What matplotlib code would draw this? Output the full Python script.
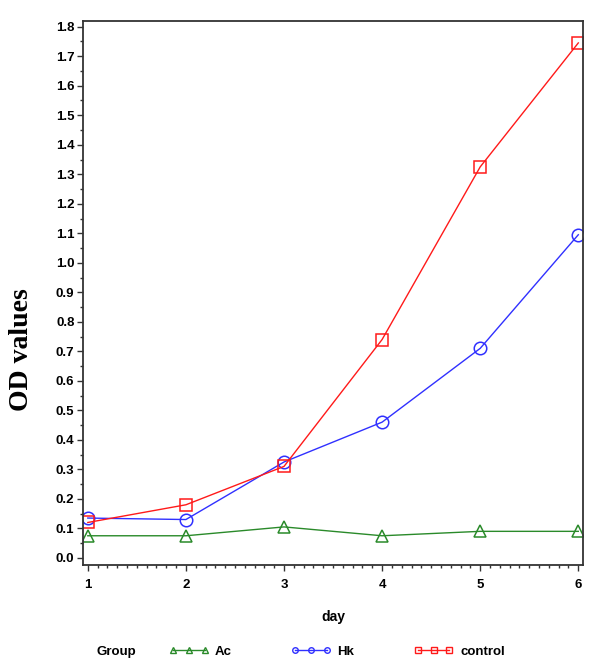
import matplotlib
matplotlib.use("Agg")
import matplotlib.pyplot as plt
from matplotlib.ticker import MultipleLocator

days = [1, 2, 3, 4, 5, 6]
day_labels = ["1", "2", "3", "4", "5", "6"]
ac = [0.075, 0.075, 0.105, 0.075, 0.09, 0.09]
hk = [0.135, 0.13, 0.325, 0.46, 0.71, 1.095]
control = [0.12, 0.18, 0.31, 0.74, 1.325, 1.745]
series_names = ["Ac", "Hk", "control"]

fig = plt.figure(figsize=(6, 6.71), dpi=100)
ax = fig.add_axes([0.138, 0.158, 0.834, 0.811])

styles = [("#2a8a2a", "^"), ("#3030ff", "o"), ("#ff1a1a", "s")]
handles = []
for vals, name, (c, m) in zip([ac, hk, control], series_names, styles):
    h, = ax.plot(days, vals, color=c, lw=1.0, marker=m, markersize=9,
                 markerfacecolor="none", markeredgecolor=c, markeredgewidth=1.1,
                 label=name)
    handles.append(h)

ax.set_xlim(0.949, 6.05)
ax.set_ylim(-0.024, 1.82)
ax.set_xticks(days)
ax.set_xticklabels(day_labels)
ax.xaxis.set_minor_locator(MultipleLocator(0.1))
ax.yaxis.set_minor_locator(MultipleLocator(0.05))
ax.set_yticks([i / 10 for i in range(19)])
ax.set_yticklabels([f"{i/10:.1f}" for i in range(19)])
for lab in ax.get_xticklabels() + ax.get_yticklabels():
    lab.set_fontweight("bold")
    lab.set_fontsize(9.5)
    lab.set_family("Liberation Sans")
ax.tick_params(which="major", direction="out", length=4, width=1, color="#333333")
ax.tick_params(which="minor", direction="out", length=2.5, width=1, color="#333333")
ax.tick_params(axis="x", pad=6)
ax.tick_params(axis="y", pad=2)
for s in ax.spines.values():
    s.set_linewidth(1.3)
    s.set_color("#333333")

ax.set_xlabel("day", fontsize=10, fontweight="bold", family="Liberation Sans", labelpad=14)
fig.text(21 / 600, 1 - 350 / 671, "OD values", rotation=90, fontsize=20,
         fontweight="bold", family="Liberation Serif", ha="center", va="center")

fig.text(97 / 600, 0.029, "Group", fontsize=9.5, fontweight="bold", family="Liberation Sans",
         va="center", ha="left")
leg = fig.legend(handles=[
    plt.Line2D([], [], color=h.get_color(), lw=1.0, marker=h.get_marker(), markersize=4,
               markerfacecolor="none", markeredgecolor=h.get_color(), label=h.get_label())
    for h in handles],
    loc="center left", bbox_to_anchor=(157 / 600, 0.029), ncol=3, frameon=False,
    numpoints=3, handlelength=3.0, columnspacing=4.5, handletextpad=0.5,
    prop={"family": "Liberation Sans", "weight": "bold", "size": 9.5})

fig.savefig("out.png", dpi=100)
